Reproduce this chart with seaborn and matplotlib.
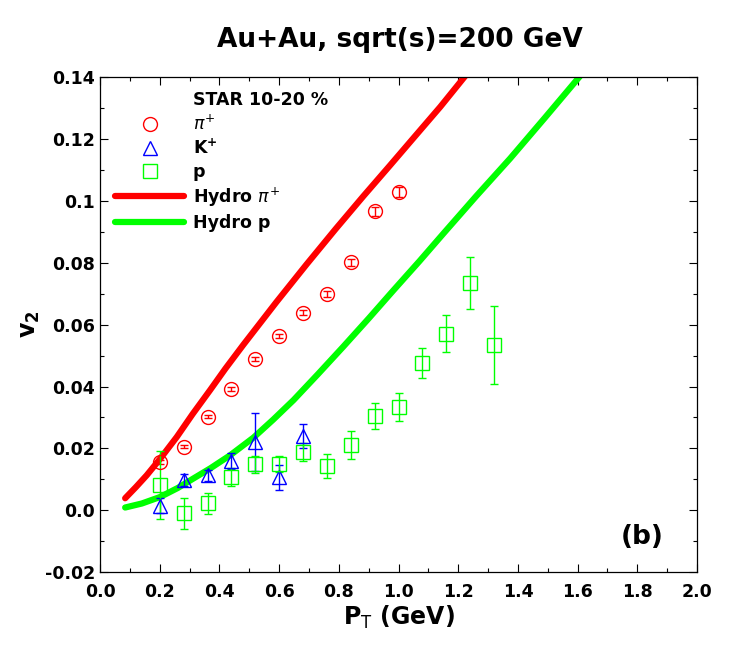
import numpy as np
import pandas as pd
import seaborn as sns
import matplotlib
matplotlib.use("Agg")
import matplotlib.pyplot as plt
from matplotlib.lines import Line2D
from matplotlib.container import ErrorbarContainer
from matplotlib.ticker import FixedLocator, FixedFormatter, MultipleLocator

# STAR 10-20 % data
pt_pi = [0.20, 0.28, 0.36, 0.44, 0.52, 0.60, 0.68, 0.76, 0.84, 0.92, 1.00]
v2_pi = [0.0156, 0.0205, 0.0302, 0.0392, 0.0489, 0.0564, 0.0639, 0.0699, 0.0801, 0.0966, 0.1029]
err_pi = [0.0005, 0.0005, 0.0005, 0.0006, 0.0006, 0.0007, 0.0008, 0.0009, 0.0011, 0.0014, 0.0016]

pt_k = [0.20, 0.28, 0.36, 0.44, 0.52, 0.60, 0.68]
v2_k = [0.0015, 0.0097, 0.0113, 0.0160, 0.0220, 0.0107, 0.0240]
err_k = [0.0025, 0.0020, 0.0018, 0.0025, 0.0094, 0.0040, 0.0040]

pt_p = [0.20, 0.28, 0.36, 0.44, 0.52, 0.60, 0.68, 0.76, 0.84, 0.92, 1.00, 1.08, 1.16, 1.24, 1.32]
v2_p = [0.0081, -0.0009, 0.0022, 0.0107, 0.0149, 0.0149, 0.0188, 0.0143, 0.0210, 0.0304,
        0.0334, 0.0476, 0.0570, 0.0735, 0.0534]
err_p = [0.0110, 0.0050, 0.0035, 0.0030, 0.0028, 0.0026, 0.0030, 0.0038, 0.0045, 0.0042,
         0.0045, 0.0050, 0.0060, 0.0083, 0.0127]

# hydro curves
pt_hydro_pi = [0.084, 0.12, 0.156, 0.20, 0.257, 0.31, 0.369, 0.42, 0.48, 0.59, 0.692,
               0.79, 0.882, 0.97, 1.05, 1.14, 1.223]
v2_hydro_pi = [0.0039, 0.0075, 0.0113, 0.0165, 0.0237, 0.0311, 0.0389, 0.0458, 0.0535, 0.0672,
               0.0795, 0.0910, 0.1015, 0.1113, 0.1203, 0.1304, 0.1403]

pt_hydro_p = [0.084, 0.14, 0.201, 0.26, 0.313, 0.37, 0.436, 0.514, 0.58, 0.648, 0.73, 0.815,
              0.90, 0.983, 1.07, 1.15, 1.26, 1.374, 1.49, 1.608]
v2_hydro_p = [0.0009, 0.0022, 0.0043, 0.0072, 0.0103, 0.0136, 0.0178, 0.0235, 0.0293, 0.0356,
              0.0440, 0.0529, 0.0620, 0.0711, 0.0805, 0.0894, 0.1015, 0.1137, 0.1268, 0.1403]

x_ticks = [0.0, 0.2, 0.4, 0.6, 0.8, 1.0, 1.2, 1.4, 1.6, 1.8, 2.0]
x_ticklabels = ["0.0", "0.2", "0.4", "0.6", "0.8", "1.0", "1.2", "1.4", "1.6", "1.8", "2.0"]
y_ticks = [-0.02, 0.0, 0.02, 0.04, 0.06, 0.08, 0.1, 0.12, 0.14]
y_ticklabels = ["-0.02", "0.0", "0.02", "0.04", "0.06", "0.08", "0.1", "0.12", "0.14"]

RED = "#ff0000"
BLUE = "#0000ff"
GREEN = "#00ff00"

sns.set_style("ticks")
plt.rcParams['font.family'] = ['DejaVu Sans']
plt.rcParams['mathtext.fontset'] = 'dejavusans'
plt.rcParams['text.color'] = 'black'
plt.rcParams['axes.labelcolor'] = 'black'
plt.rcParams['xtick.color'] = 'black'
plt.rcParams['ytick.color'] = 'black'
plt.rcParams['axes.edgecolor'] = 'black'

fig = plt.figure(figsize=(7.47, 6.48), dpi=100)
ax = fig.add_axes([0.134, 0.117, 0.799, 0.764])

hydro_pi = pd.DataFrame({"pt": pt_hydro_pi, "v2": v2_hydro_pi})
hydro_p = pd.DataFrame({"pt": pt_hydro_p, "v2": v2_hydro_p})
sns.lineplot(data=hydro_pi, x="pt", y="v2", ax=ax, color=RED, lw=4.5, sort=False,
             estimator=None, label=r"Hydro $\pi^{+}$", zorder=2)
sns.lineplot(data=hydro_p, x="pt", y="v2", ax=ax, color=GREEN, lw=4.5, sort=False,
             estimator=None, label="Hydro p", zorder=2)

ax.errorbar(pt_pi, v2_pi, yerr=err_pi, fmt="o", ms=10, mfc="none", mec=RED, mew=1,
            ecolor=RED, elinewidth=1, capsize=3, label=r"$\pi^{+}$", zorder=3)
ax.errorbar(pt_k, v2_k, yerr=err_k, fmt="^", ms=10, mfc="none", mec=BLUE, mew=1,
            ecolor=BLUE, elinewidth=1, capsize=3, label=r"K$^{\mathbf{+}}$", zorder=3)
ax.errorbar(pt_p, v2_p, yerr=err_p, fmt="s", ms=10, mfc="none", mec=GREEN, mew=1,
            ecolor=GREEN, elinewidth=1, capsize=3, label="p", zorder=3)

ax.set_xlim(0.0, 2.0)
ax.set_ylim(-0.02, 0.14)
ax.xaxis.set_major_locator(FixedLocator(x_ticks))
ax.xaxis.set_major_formatter(FixedFormatter(x_ticklabels))
ax.yaxis.set_major_locator(FixedLocator(y_ticks))
ax.yaxis.set_major_formatter(FixedFormatter(y_ticklabels))
ax.xaxis.set_minor_locator(MultipleLocator(0.1))
ax.yaxis.set_minor_locator(MultipleLocator(0.01))
ax.tick_params(which="both", direction="in", top=True, right=True, width=0.8)
ax.tick_params(which="major", length=6, labelsize=12.5)
ax.tick_params(axis="x", which="major", pad=8)
ax.tick_params(which="minor", length=3)
for lab in ax.get_xticklabels() + ax.get_yticklabels():
    lab.set_fontweight("bold")
for sp in ax.spines.values():
    sp.set_linewidth(0.9)
    sp.set_visible(True)

ax.set_xlabel(r"P$_\mathsf{T}$ (GeV)", fontsize=17, fontweight="bold", labelpad=2)
ax.set_ylabel(r"v$_\mathbf{2}$", fontsize=17, fontweight="bold", labelpad=2)
fig.suptitle("Au+Au, sqrt(s)=200 GeV", fontsize=19, fontweight="bold", y=0.958, x=0.535)

# legend: markers only (no error bars), with a text-only header row
handles, labels = ax.get_legend_handles_labels()
want = [r"$\pi^{+}$", r"K$^{\mathbf{+}}$", "p", r"Hydro $\pi^{+}$", "Hydro p"]
picked = []
for l in want:
    h = handles[labels.index(l)]
    if isinstance(h, ErrorbarContainer):
        h = h[0]
    picked.append(h)
blank = Line2D([], [], linestyle="none", marker=None)
leg = ax.legend([blank] + picked, ["STAR 10-20 %"] + want,
                loc="upper left", bbox_to_anchor=(0.013, 0.985),
                frameon=False, fontsize=12.5,
                handlelength=4.0, handletextpad=0.5, labelspacing=0.28, borderaxespad=0.0)
for t in leg.get_texts():
    t.set_fontweight("bold")

ax.text(0.945, 0.045, "(b)", transform=ax.transAxes, fontsize=19, fontweight="bold",
        ha="right", va="bottom")

fig.savefig("out.png", dpi=100)
